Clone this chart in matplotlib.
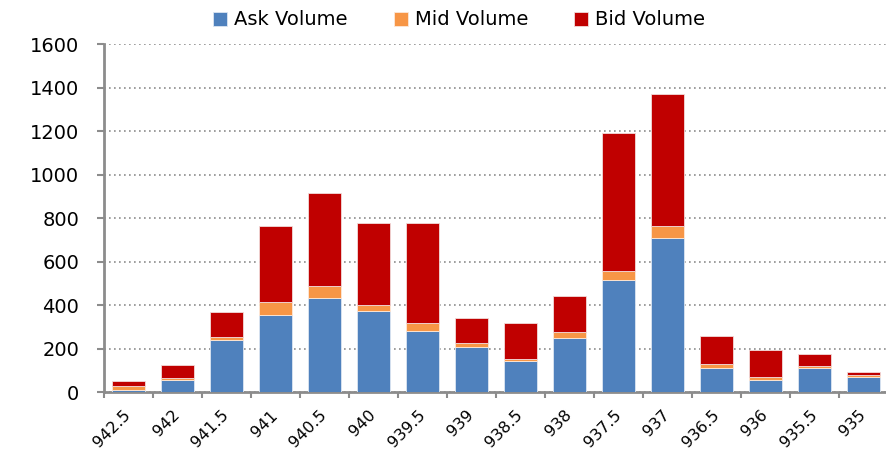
import matplotlib
matplotlib.use("Agg")
import matplotlib.pyplot as plt
import numpy as np

categories = ["942.5", "942", "941.5", "941", "940.5", "940", "939.5", "939",
              "938.5", "938", "937.5", "937", "936.5", "936", "935.5", "935"]
ask_volume = [11, 53, 241, 356, 431, 373, 282, 209, 143, 250, 516, 710, 112, 53, 112, 71]
mid_volume = [18, 11, 12, 58, 58, 28, 36, 17, 9, 26, 41, 52, 17, 18, 8, 8]
bid_volume = [22, 62, 114, 352, 427, 375, 458, 115, 166, 165, 634, 609, 130, 124, 57, 15]
series_names = ["Ask Volume", "Mid Volume", "Bid Volume"]
colors = ["#4F81BD", "#F79646", "#C00000"]
y_ticks = [0, 200, 400, 600, 800, 1000, 1200, 1400, 1600]

plt.rcParams['font.family'] = ['DejaVu Sans']
fig = plt.figure(figsize=(8.86, 4.53), dpi=100)
ax = fig.add_axes([104 / 886, 1 - 392 / 453, 784 / 886, (392 - 44.3) / 453])

x = np.arange(len(categories))
ask = np.array(ask_volume)
mid = np.array(mid_volume)
bid = np.array(bid_volume)
w = 0.69
ax.bar(x, ask, w, color=colors[0], label=series_names[0], edgecolor="#dce6f2", linewidth=0.6, zorder=3)
ax.bar(x, mid, w, bottom=ask, color=colors[1], label=series_names[1], edgecolor="#fde9d9", linewidth=0.6, zorder=3)
ax.bar(x, bid, w, bottom=ask + mid, color=colors[2], label=series_names[2], edgecolor="#f2dcdb", linewidth=0.6, zorder=3)

ax.set_xlim(-0.5, len(categories) - 0.5)
ax.set_ylim(0, 1600)
ax.set_yticks(y_ticks)
ax.set_yticklabels([str(v) for v in y_ticks], fontsize=14)
ax.yaxis.grid(True, linestyle=(0, (1, 2)), color="#8c8c8c", linewidth=1.2, zorder=0)
ax.set_xticks(x)
ax.set_xticklabels(categories, rotation=45, ha="right", va="center", rotation_mode="anchor", fontsize=11.5)
ax.tick_params(axis="x", which="major", length=0, pad=15)
ax.set_xticks(np.arange(-0.5, len(categories), 1.0), minor=True)
ax.tick_params(axis="x", which="minor", length=4, width=1.5, color="#8c8c8c", direction="out")
ax.tick_params(axis="y", length=5, width=1.5, color="#8c8c8c", direction="out", pad=13)

for s in ["top", "right"]:
    ax.spines[s].set_visible(False)
for s in ["left", "bottom"]:
    ax.spines[s].set_color("#8c8c8c")
    ax.spines[s].set_linewidth(2)

leg = fig.legend(loc="center", bbox_to_anchor=(0.518, 0.956), ncol=3, frameon=False,
                 fontsize=14, handlelength=0.72, handleheight=0.72, handletextpad=0.36,
                 columnspacing=2.37, borderpad=0.0)

fig.savefig("out.png", dpi=100)
